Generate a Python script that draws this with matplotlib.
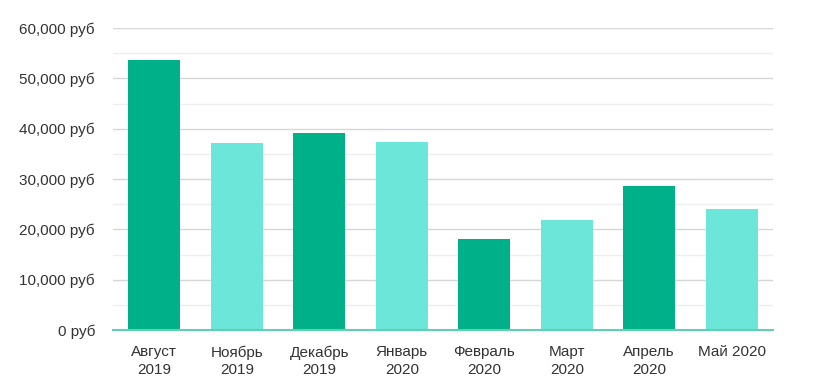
import matplotlib.pyplot as plt
import matplotlib as mpl
import numpy as np

months = ['Август\n2019', 'Ноябрь\n2019', 'Декабрь\n2019', 'Январь\n2020',
          'Февраль\n2020', 'Март\n2020', 'Апрель\n2020', 'Май 2020']
revenue = [53700, 37200, 39150, 37400, 18100, 21900, 28650, 24050]
bar_colors = ['#00b088', '#6ce6d9'] * 4

plt.rcParams['font.family'] = ['Liberation Sans', 'DejaVu Sans']

fig = plt.figure(figsize=(8.15, 3.9), dpi=100)
ax = fig.add_axes([0.1387, 0.1538, 0.8098, 0.7742])

x = np.arange(len(months))
ax.bar(x, revenue, width=0.63, color=bar_colors, zorder=3)

ax.set_xlim(-0.5, len(months) - 0.5)
ax.set_ylim(0, 60000)
ax.set_yticks(np.arange(0, 60001, 10000))
ax.set_yticks(np.arange(5000, 60000, 10000), minor=True)
ax.yaxis.set_major_formatter(mpl.ticker.StrMethodFormatter('{x:,.0f} руб'))
ax.set_xticks(x)
ax.set_xticklabels(months, linespacing=1.3)

ax.grid(axis='y', which='major', color='#d6d6d6', linewidth=1, zorder=0)
ax.grid(axis='y', which='minor', color='#eeeeee', linewidth=1, zorder=0)

for s in ['top', 'right', 'left']:
    ax.spines[s].set_visible(False)
ax.spines['bottom'].set_color('#5fd0b4')
ax.spines['bottom'].set_linewidth(1.5)
ax.spines['bottom'].set_zorder(4)

ax.tick_params(axis='both', which='both', length=0, labelsize=11, labelcolor='#333333')
ax.tick_params(axis='y', pad=13)
ax.tick_params(axis='x', pad=11)

fig.savefig('out.png', dpi=100)
